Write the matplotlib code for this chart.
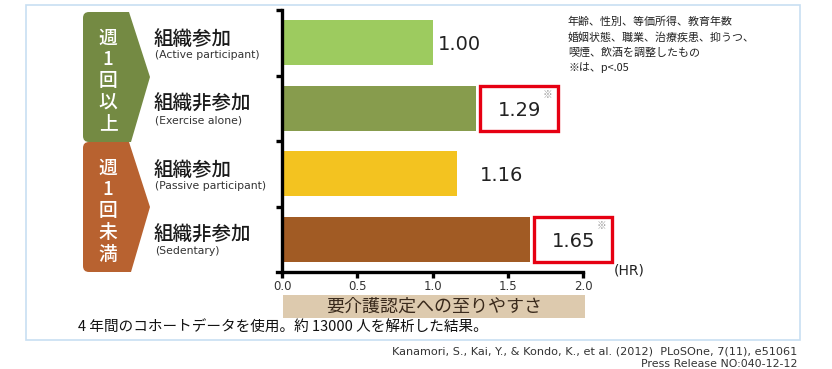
import numpy as np
import matplotlib.pyplot as plt
from matplotlib.patches import Polygon, FancyBboxPatch, Rectangle

plt.rcParams['font.family'] = ['Noto Sans CJK JP', 'DejaVu Sans']

# data
groups = ['週\n1\n回\n以\n上', '週\n1\n回\n未\n満']
labels_jp = ['組織参加', '組織非参加', '組織参加', '組織非参加']
labels_en = ['(Active participant)', '(Exercise alone)', '(Passive participant)', '(Sedentary)']
hr = [1.00, 1.29, 1.16, 1.65]
signif = [False, True, False, True]
xticks = [0.0, 0.5, 1.0, 1.5, 2.0]
note_lines = ['年齢、性別、等価所得、教育年数',
              '婚姻状態、職業、治療疾患、抑うつ、',
              '喫煙、飲酒を調整したもの',
              '※は、p<.05']
xlabel = '要介護認定への至りやすさ'
footer = '4 年間のコホートデータを使用。約 13000 人を解析した結果。'
cite1 = 'Kanamori, S., Kai, Y., & Kondo, K., et al. (2012)  PLoSOne, 7(11), e51061'
cite2 = 'Press Release NO:040-12-12'

bar_colors = ['#9DCB5F', '#879C4D', '#F3C320', '#A15B24']
badge_colors = ['#748A43', '#B86230']
label_gap = [5, 22, 23, 22]  # px between bar end and value text

W, H = 832, 369
fig = plt.figure(figsize=(W / 100, H / 100), dpi=100)

# background / annotation layer in pixel coords
bg = fig.add_axes([0, 0, 1, 1], zorder=0)
bg.set_xlim(0, W)
bg.set_ylim(H, 0)
bg.axis('off')

bg.add_patch(Rectangle((26, 5), 774, 335, fill=False, ec='#C8DFF2', lw=1.2))

# badges
for i, (g, c) in enumerate(zip(groups, badge_colors)):
    top = 12 + i * 130
    bot = top + 130
    bg.add_patch(FancyBboxPatch((83, top), 42, 130, boxstyle='round,pad=0,rounding_size=6',
                                fc=c, ec='none'))
    bg.add_patch(Polygon([(118, top), (129, top), (150, top + 65), (131, bot), (118, bot)],
                         closed=True, fc=c, ec='none'))
    for k, ch in enumerate(g.split('\n')):
        bg.text(108, top + 26 + k * 21.5, ch, color='white', fontsize=13.5,
                ha='center', va='center', fontweight='medium')

# category labels
for i in range(4):
    yc = 44 + i * 65.5
    bg.text(154, yc - 5, labels_jp[i], fontsize=14, ha='left', va='center',
            color='#1a1a1a', fontweight='medium')
    bg.text(155, yc + 11, labels_en[i], fontsize=7.8, ha='left', va='center',
            color='#333333', family='DejaVu Sans')

# note
for k, s in enumerate(note_lines):
    bg.text(568, 22 + k * 15.3, s, fontsize=7.9, ha='left', va='center', color='#222222')

bg.text(614, 271, '(HR)', fontsize=10, ha='left', va='center', color='#222222',
        family='DejaVu Sans')

# x label box
bg.add_patch(Rectangle((283, 295), 302, 23, fc='#DDCAAE', ec='none'))
bg.text(434, 306.5, xlabel, fontsize=13, ha='center', va='center', color='#3A2A1C')

bg.text(78, 328, footer, fontsize=10.5, ha='left', va='center', color='#111111')
bg.text(797, 352, cite1, fontsize=8.1, ha='right', va='center', color='#333333',
        family='DejaVu Sans')
bg.text(797, 364, cite2, fontsize=7.9, ha='right', va='center', color='#333333',
        family='DejaVu Sans')

# main bar chart
ax = fig.add_axes([282 / W, (H - 272) / H, (583 - 282) / W, (272 - 10) / H], zorder=1)
ax.patch.set_alpha(0)
y = np.arange(len(hr))
ax.barh(y, hr, height=0.69, color=bar_colors)
ax.set_xlim(0, 2)
ax.set_ylim(3.5, -0.5)

px = 2.0 / (583 - 282)  # data units per pixel
for i, v in enumerate(hr):
    ax.text(v + label_gap[i] * px, i + 0.03, f'{v:.2f}', fontsize=14, ha='left', va='center',
            family='DejaVu Sans', color='#222222', clip_on=False)
    if signif[i]:
        ax.add_patch(Rectangle((v + 4 * px, i - 0.345), 78 * px, 0.69, fill=False,
                               ec='#E60012', lw=2.4, clip_on=False))
        ax.text(v + 71 * px, i - 0.2, '※', fontsize=7, ha='center', va='center',
                color='#999999', clip_on=False)

for s in ['top', 'right']:
    ax.spines[s].set_visible(False)
for s in ['left', 'bottom']:
    ax.spines[s].set_linewidth(2.4)
    ax.spines[s].set_color('black')
ax.spines['bottom'].set_bounds(-5 * px, 2.0)

ax.set_yticks([-0.5, 0.5, 1.5, 2.5])
ax.set_yticklabels([])
ax.tick_params(axis='y', length=4, width=2.4, direction='out')
ax.set_xticks(xticks)
ax.set_xticklabels([f'{t:.1f}' for t in xticks], family='DejaVu Sans', fontsize=8.5,
                   color='#333333')
ax.tick_params(axis='x', length=4, width=2.4, direction='out', pad=1.5)

fig.savefig('out.png', dpi=100)
